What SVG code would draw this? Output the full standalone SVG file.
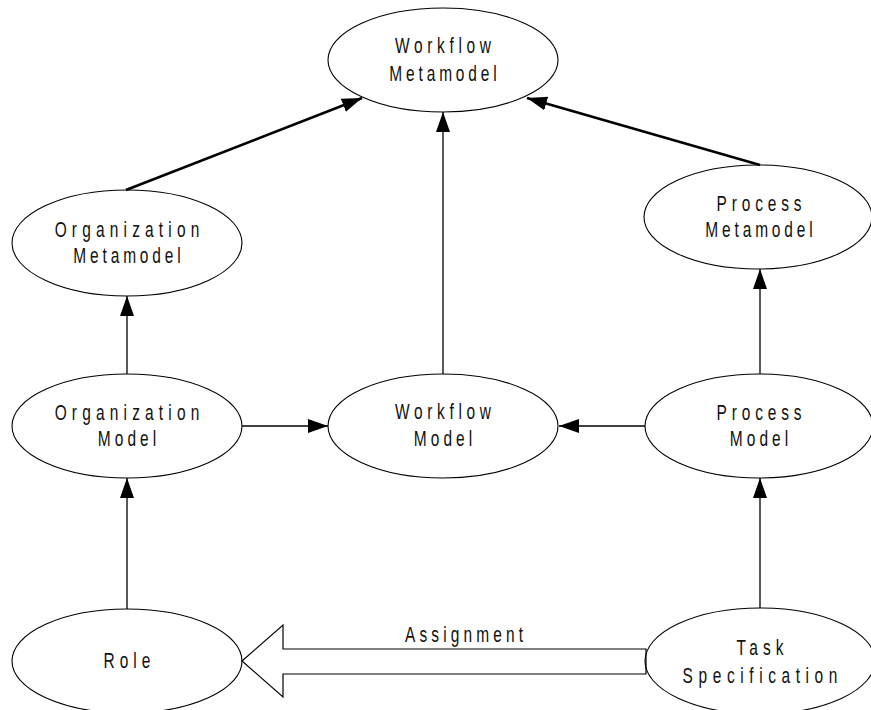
<svg xmlns="http://www.w3.org/2000/svg" width="871" height="710" viewBox="0 0 871 710">
  <style>
    .node ellipse { fill: #ffffff; stroke: #000000; stroke-width: 1.1; }
    text { font-family: "Liberation Sans", Arial, sans-serif; font-size: 21.5px; fill: #111111; text-anchor: middle; }
    .edge { stroke: #000000; fill: none; }
    .thin { stroke-width: 1.3; }
    .thick { stroke-width: 2.6; }
  </style>
  <defs>
    <marker id="head" markerUnits="userSpaceOnUse" markerWidth="22" markerHeight="16" refX="20" refY="7" orient="auto">
      <path d="M0,0 L20,7 L0,14 z" fill="#000000"/>
    </marker>
  </defs>

  <rect width="871" height="710" fill="#ffffff"/>

  <!-- nodes; labels use a horizontally condensed face with wide tracking -->
  <g id="workflow-metamodel" class="node">
    <ellipse cx="443" cy="60" rx="115" ry="52"/>
    <g transform="translate(443 0) scale(0.72 1)">
      <text x="0" y="53" textLength="133" lengthAdjust="spacing">Workflow</text>
      <text x="0" y="81" textLength="149" lengthAdjust="spacing">Metamodel</text>
    </g>
  </g>
  <g id="organization-metamodel" class="node">
    <ellipse cx="127" cy="243" rx="115" ry="53"/>
    <g transform="translate(127 0) scale(0.72 1)">
      <text x="0" y="237" textLength="201" lengthAdjust="spacing">Organization</text>
      <text x="0" y="263" textLength="149" lengthAdjust="spacing">Metamodel</text>
    </g>
  </g>
  <g id="process-metamodel" class="node">
    <ellipse cx="758" cy="217" rx="114" ry="52"/>
    <g transform="translate(759 0) scale(0.72 1)">
      <text x="0" y="211" textLength="118" lengthAdjust="spacing">Process</text>
      <text x="0" y="237" textLength="149" lengthAdjust="spacing">Metamodel</text>
    </g>
  </g>
  <g id="organization-model" class="node">
    <ellipse cx="127" cy="426" rx="115" ry="52"/>
    <g transform="translate(127 0) scale(0.72 1)">
      <text x="0" y="420" textLength="201" lengthAdjust="spacing">Organization</text>
      <text x="0" y="446" textLength="81" lengthAdjust="spacing">Model</text>
    </g>
  </g>
  <g id="workflow-model" class="node">
    <ellipse cx="443" cy="426" rx="115" ry="52"/>
    <g transform="translate(443 0) scale(0.72 1)">
      <text x="0" y="419" textLength="133" lengthAdjust="spacing">Workflow</text>
      <text x="0" y="446" textLength="81" lengthAdjust="spacing">Model</text>
    </g>
  </g>
  <g id="process-model" class="node">
    <ellipse cx="759" cy="426" rx="114" ry="52"/>
    <g transform="translate(759 0) scale(0.72 1)">
      <text x="0" y="420" textLength="118" lengthAdjust="spacing">Process</text>
      <text x="0" y="446" textLength="81" lengthAdjust="spacing">Model</text>
    </g>
  </g>
  <g id="role" class="node">
    <ellipse cx="127" cy="661" rx="115" ry="52"/>
    <g transform="translate(127 0) scale(0.72 1)">
      <text x="0" y="668" textLength="65" lengthAdjust="spacing">Role</text>
    </g>
  </g>
  <g id="task-specification" class="node">
    <ellipse cx="760" cy="661" rx="115" ry="53"/>
    <g transform="translate(760 0) scale(0.72 1)">
      <text x="0" y="655" textLength="65" lengthAdjust="spacing">Task</text>
      <text x="0" y="683" textLength="215" lengthAdjust="spacing">Specification</text>
    </g>
  </g>

  <!-- connectors -->
  <g id="connectors">
    <line class="edge thick" x1="126" y1="190" x2="362" y2="98" marker-end="url(#head)"/>
    <line class="edge thick" x1="760" y1="165" x2="527" y2="98" marker-end="url(#head)"/>
    <line class="edge thin" x1="443" y1="374" x2="443" y2="112" marker-end="url(#head)"/>
    <line class="edge thin" x1="127" y1="374" x2="127" y2="296" marker-end="url(#head)"/>
    <line class="edge thin" x1="760" y1="374" x2="760" y2="269" marker-end="url(#head)"/>
    <line class="edge thin" x1="127" y1="609" x2="127" y2="478" marker-end="url(#head)"/>
    <line class="edge thin" x1="760" y1="608" x2="760" y2="478" marker-end="url(#head)"/>
    <line class="edge thin" x1="242" y1="426" x2="328" y2="426" marker-end="url(#head)"/>
    <line class="edge thin" x1="645" y1="426" x2="559" y2="426" marker-end="url(#head)"/>
    <g id="assignment">
      <polygon class="edge" stroke-width="1.2" fill="#ffffff" points="242,661 283,625 283,649 646,649 646,674 283,674 283,697"/>
      <g transform="translate(464 0) scale(0.72 1)">
        <text x="0" y="642" textLength="164" lengthAdjust="spacing">Assignment</text>
      </g>
    </g>
  </g>
</svg>
